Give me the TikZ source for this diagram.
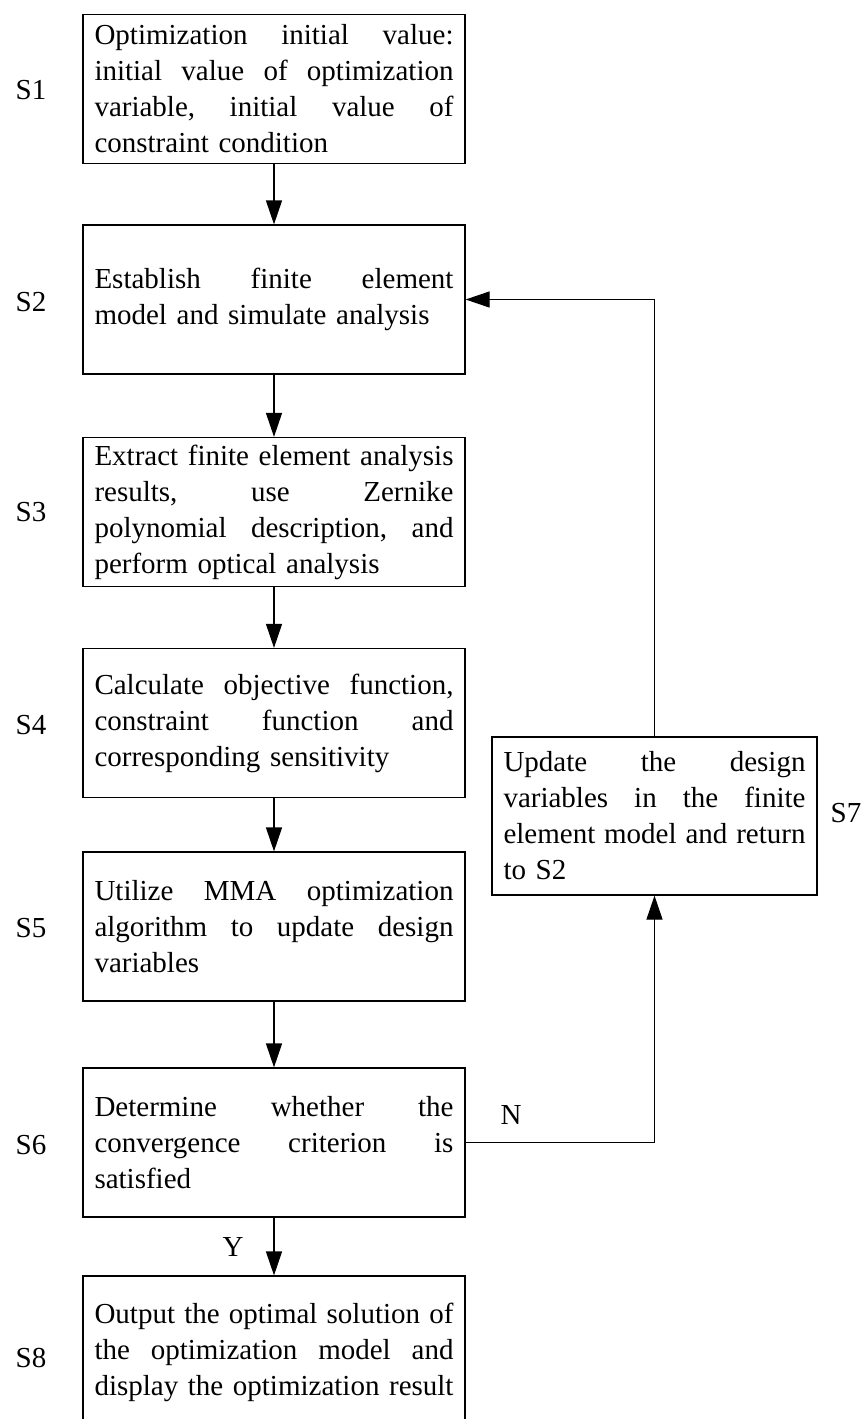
\documentclass[tikz,border=0pt]{standalone}
\usepackage{fontspec}
\setmainfont{Liberation Serif}
\usetikzlibrary{arrows.meta}
\newcommand\jl[2][359pt]{\leavevmode\hbox to #1{#2}}
\newcommand\gp{\hfill}
\begin{document}
\begin{tikzpicture}[x=1pt,y=-1pt,
  box/.style={draw,line width=1.2pt,text width=359pt,inner xsep=11.5pt,inner ysep=3pt,
    minimum height=149pt,align=left,font=\fontsize{29}{36}\selectfont},
  lab/.style={font=\fontsize{29}{32}\selectfont,inner sep=0pt},
  arr/.style={line width=1.2pt,-{Triangle[length=24pt,width=16pt]}}]
\useasboundingbox (0,0) rectangle (862,1419);
\node[box] (b1) at (274,89) {\jl{Optimization\gp initial\gp value:}\\\jl{initial\gp value\gp of\gp optimization}\\\jl{variable,\gp initial\gp value\gp of}\\constraint condition};
\node[box] (b2) at (274,299.5) {\jl{Establish\gp finite\gp element}\\model and simulate analysis};
\node[box] (b3) at (274,512) {\jl{Extract\gp finite\gp element\gp analysis}\\\jl{results,\gp use\gp Zernike}\\\jl{polynomial\gp description,\gp and}\\perform optical analysis};
\node[box] (b4) at (274,723) {\jl{Calculate\gp objective\gp function,}\\\jl{constraint\gp function\gp and}\\corresponding sensitivity};
\node[box] (b5) at (274,926.5) {\jl{Utilize\gp MMA\gp optimization}\\\jl{algorithm\gp to\gp update\gp design}\\variables};
\node[box] (b6) at (274,1142.5) {\jl{Determine\gp whether\gp the}\\\jl{convergence\gp criterion\gp is}\\satisfied};
\node[box,minimum height=152pt] (b8) at (274,1352) {\jl{Output\gp the\gp optimal\gp solution\gp of}\\\jl{the\gp optimization\gp model\gp and}\\\jl{display\gp the\gp optimization\gp result}};
\node[box,text width=302pt,minimum height=158pt] (b7) at (654.5,816) {\jl[302pt]{Update\gp the\gp design}\\\jl[302pt]{variables\gp in\gp the\gp finite}\\\jl[302pt]{element\gp model\gp and\gp return}\\to S2};
\node[lab] (s1) at (31,90) {S1};
\node[lab] (s2) at (31,302) {S2};
\node[lab] (s3) at (31,512) {S3};
\node[lab] (s4) at (31,725) {S4};
\node[lab] (s5) at (31,928) {S5};
\node[lab] (s6) at (31,1145) {S6};
\node[lab] (s8) at (31,1358) {S8};
\node[lab] (s7) at (846,813) {S7};
\node[lab] (n) at (511,1115) {N};
\node[lab] (y) at (233,1247) {Y};
\draw[arr] (b1.south) -- (b2.north);
\draw[arr] (b2.south) -- (b3.north);
\draw[arr] (b3.south) -- (b4.north);
\draw[arr] (b4.south) -- (b5.north);
\draw[arr] (b5.south) -- (b6.north);
\draw[arr] (b6.south) -- (b8.north);
\draw[arr] (b6.east) -| (b7.south);
\draw[arr] (b7.north) |- (b2.east);
\end{tikzpicture}
\end{document}
